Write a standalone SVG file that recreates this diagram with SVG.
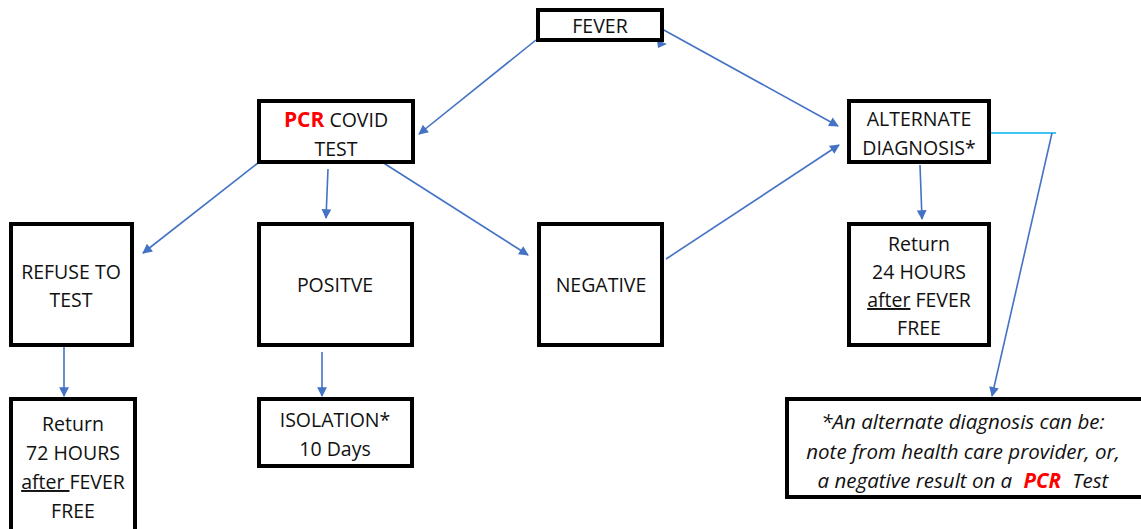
<svg xmlns="http://www.w3.org/2000/svg" width="1141" height="529" viewBox="0 0 1141 529">
<style>
.box{fill:#fff;stroke:#000;stroke-width:4}
.t{font-family:"Open Sans","Liberation Sans",sans-serif;font-size:19.5px;fill:#111;text-anchor:middle}
.n{font-size:20.5px;font-style:italic}
.c{stroke:#4472C4;stroke-width:1.6;fill:none}
.red{fill:#ff0000;font-weight:bold}
</style>
<defs>
<marker id="ah" viewBox="0 0 10 10" refX="9" refY="5" markerWidth="6.5" markerHeight="6.5" markerUnits="userSpaceOnUse" orient="auto" style="overflow:visible">
<path d="M0,0 L10,5 L0,10 z" fill="#4472C4" transform="scale(1.5) translate(-3,-1.7)"/>
</marker>
</defs>
<g id="connectors">
<line class="c" x1="536" y1="40" x2="419" y2="134" marker-end="url(#ah)"/>
<line class="c" x1="662" y1="29" x2="838" y2="126" marker-end="url(#ah)"/>
<polygon points="657,40 667,44 658,48" fill="#4472C4"/>
<line class="c" x1="666" y1="259" x2="839" y2="145" marker-end="url(#ah)"/>
<line class="c" x1="258" y1="163" x2="143" y2="253" marker-end="url(#ah)"/>
<line class="c" x1="328" y1="169" x2="326" y2="218" marker-end="url(#ah)"/>
<line class="c" x1="382" y1="162" x2="528" y2="255" marker-end="url(#ah)"/>
<line class="c" x1="64" y1="316" x2="64" y2="396" marker-end="url(#ah)"/>
<line class="c" x1="322" y1="352" x2="322" y2="396" marker-end="url(#ah)"/>
<line class="c" x1="920" y1="165" x2="922" y2="219" marker-end="url(#ah)"/>
<line x1="989" y1="133" x2="1056" y2="133" stroke="#00B0F0" stroke-width="1.6"/>
<line class="c" x1="1052" y1="133" x2="992" y2="396" marker-end="url(#ah)"/>
</g>
<g id="fever">
<rect class="box" x="538" y="10" width="124" height="30"/>
<text class="t" x="600" y="33">FEVER</text>
</g>
<g id="pcr">
<rect class="box" x="259" y="101" width="154" height="61"/>
<text class="t" x="336" y="127"><tspan class="red" font-size="21">PCR</tspan> COVID</text>
<text class="t" x="336" y="156">TEST</text>
</g>
<g id="alternate">
<rect class="box" x="849" y="101" width="140" height="61"/>
<text class="t" x="919" y="126">ALTERNATE</text>
<text class="t" x="919" y="155">DIAGNOSIS*</text>
</g>
<g id="refuse">
<rect class="box" x="11" y="224" width="121" height="121"/>
<text class="t" x="71" y="279">REFUSE TO</text>
<text class="t" x="71" y="307">TEST</text>
</g>
<g id="positive">
<rect class="box" x="259" y="224" width="153" height="121"/>
<text class="t" x="335" y="292">POSITVE</text>
</g>
<g id="negative">
<rect class="box" x="539" y="224" width="123" height="121"/>
<text class="t" x="601" y="292">NEGATIVE</text>
</g>
<g id="return24">
<rect class="box" x="849" y="224" width="140" height="121"/>
<text class="t" x="919" y="251">Return</text>
<text class="t" x="919" y="279">24 HOURS</text>
<text class="t" x="919" y="307"><tspan text-decoration="underline">after</tspan> FEVER</text>
<text class="t" x="919" y="335">FREE</text>
</g>
<g id="return72">
<rect class="box" x="11" y="399" width="124" height="140"/>
<text class="t" x="73" y="431">Return</text>
<text class="t" x="73" y="460">72 HOURS</text>
<text class="t" x="73" y="489"><tspan text-decoration="underline">after </tspan>FEVER</text>
<text class="t" x="73" y="518">FREE</text>
</g>
<g id="isolation">
<rect class="box" x="259" y="399" width="153" height="67"/>
<text class="t" x="335" y="427">ISOLATION*</text>
<text class="t" x="335" y="456">10 Days</text>
</g>
<g id="note">
<rect class="box" x="787" y="399" width="360" height="98"/>
<text class="t n" x="963" y="429">*An alternate diagnosis can be:</text>
<text class="t n" x="963" y="459">note from health care provider, or,</text>
<text class="t n" x="963" y="488">a negative result on a <tspan class="red" dx="6">PCR</tspan><tspan dx="6"> Test</tspan></text>
</g>
</svg>
